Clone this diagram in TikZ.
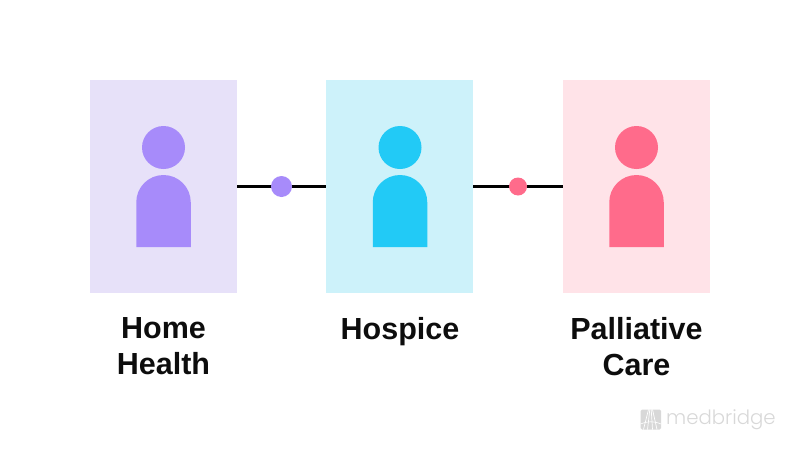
\documentclass[tikz,border=0pt]{standalone}
\usepackage{fontspec}
\setmainfont{Liberation Sans}
\newfontfamily\logofont{Poppins Light}
\definecolor{pv}{HTML}{A78BFA}\definecolor{pvl}{HTML}{E7E1F9}
\definecolor{bl}{HTML}{22CAF6}\definecolor{bll}{HTML}{CDF2FA}
\definecolor{rd}{HTML}{FF6B8B}\definecolor{rdl}{HTML}{FFE3E8}
\definecolor{logo}{HTML}{D8D8D8}
\tikzset{
 x=1pt,y=-1pt,
 card/.style={minimum width=147pt,minimum height=213pt,inner sep=0pt,outer sep=0pt,draw=none},
 head/.style={circle,minimum size=43pt,inner sep=0pt,outer sep=0pt},
 dot/.style={circle,inner sep=0pt,outer sep=0pt},
 link/.style={line width=2.3pt,black},
 lab/.style={font=\bfseries\fontsize{30.5}{36}\selectfont,align=center,anchor=north,inner sep=0pt,text=black!95}
}
\newcommand{\bodyshape}[2]{\fill[#2] (#1-27.25,247) -- (#1-27.25,202.25) arc[start angle=180,end angle=360,radius=27.25] -- (#1+27.25,247) -- cycle;}
\begin{document}
\begin{tikzpicture}
\useasboundingbox (0,0) rectangle (800,450);
\node[card,fill=pvl] (c1) at (163.5,186.5) {};
\node[card,fill=bll] (c2) at (399.75,186.5) {};
\node[card,fill=rdl] (c3) at (636.5,186.5) {};
\draw[link] (c1.east) -- (c2.west);
\draw[link] (c2.east) -- (c3.west);
\node[dot,fill=pv,minimum size=21pt] (d1) at (281.5,186.5) {};
\node[dot,fill=rd,minimum size=18pt] (d2) at (518,186.5) {};
\node[head,fill=pv] (h1) at (163.5,147.5) {};
\node[head,fill=bl] (h2) at (400,147.5) {};
\node[head,fill=rd] (h3) at (636.5,147.5) {};
\bodyshape{163.5}{pv}
\bodyshape{400}{bl}
\bodyshape{636.5}{rd}
\node[lab] (t1) at (163.5,317) {Home\\Health};
\node[lab] (t2) at (400,317) {Hospice};
\node[lab] (t3) at (636.5,317) {Palliative\\Care};
\fill[logo,rounded corners=1.5pt] (640.5,409.5) rectangle (661,429.5);
\foreach \a/\b in {648.5/643.5,649.8/647.5,651.2/652.5,652.5/657}
  \draw[white,line width=.7pt] (\a,409.5) -- (\b,429.5);
\draw[white,line width=.6pt] (640.5,424) .. controls (648,421) and (654,421) .. (661,424);
\node[anchor=west,inner sep=0pt,text=logo,font=\logofont\fontsize{19.7}{24}\selectfont] (logo) at (666,419.5) {medbridge};
\end{tikzpicture}
\end{document}
